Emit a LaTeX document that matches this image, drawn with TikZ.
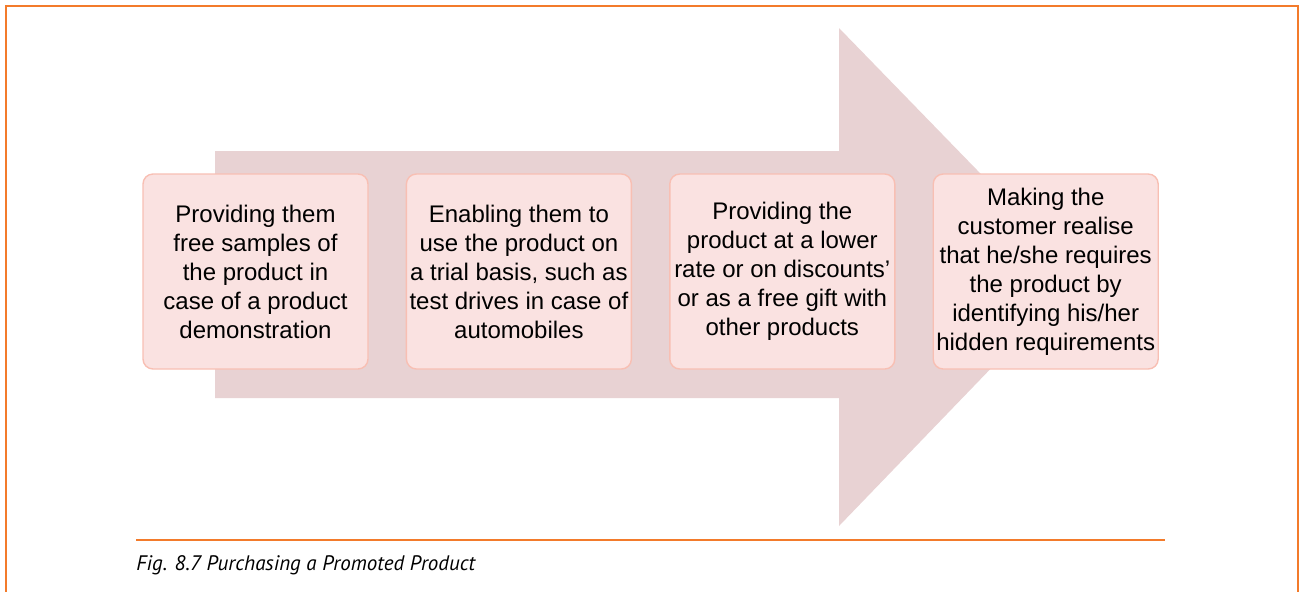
\documentclass[tikz,border=0pt]{standalone}
\usepackage{fontspec}
\setmainfont{Liberation Sans}
\newfontfamily\captionfont{PT Sans}
\usepackage{tikz}
\usetikzlibrary{positioning}

\definecolor{frameorange}{HTML}{F37B2B}
\definecolor{arrowpink}{HTML}{E8D2D3}
\definecolor{boxfill}{HTML}{FAE2E1}
\definecolor{boxline}{HTML}{F8BFB3}

\tikzset{
  stepbox/.style={draw=boxline, fill=boxfill, line width=0.7pt, rounded corners=5pt,
    minimum width=112.5pt, minimum height=97.5pt, align=center, inner sep=0pt,
    font=\fontsize{12}{14.5}\selectfont},
}

\begin{document}
\begin{tikzpicture}[x=0.5pt, y=-0.5pt]
        \useasboundingbox (0,0) rectangle (1301,591);
        \begin{scope}
        \clip (0,0) rectangle (1301,591);

        % frame
        \draw [frameorange, line width=1pt] (6,600) -- (6,6) -- (1298,6) -- (1298,600);

        % big arrow behind the boxes
        \fill [arrowpink] (215,151) -- (839,151) -- (839,28) -- (1080,276)
              -- (839,526) -- (839,398) -- (215,398) -- cycle;

        % steps
        \node [stepbox] (free) at (255.5,271.5) {Providing them\\free samples of\\the product in\\case of a product\\demonstration};
        \node [stepbox, right=18.5pt of free] (trial) {Enabling them to\\use the product on\\a trial basis, such as\\test drives in case of\\automobiles};
        \node [stepbox, right=18.5pt of trial] (rate) {Providing the\\product at a lower\\rate or on discounts'\\or as a free gift with\\other products};
        \node [stepbox, right=18.5pt of rate] (need) {Making the\\customer realise\\that he/she requires\\the product by\\identifying his/her\\hidden requirements};

        % caption
        \coordinate (ruleL) at (136,540);
        \coordinate (ruleR) at (1165,540);
        \draw [frameorange, line width=1pt] (ruleL) -- (ruleR);
        \node [anchor=base west, inner sep=0pt, font=\captionfont\itshape\fontsize{10.5}{13}\selectfont] (cap) at (136,570) {Fig. 8.7 Purchasing a Promoted Product};
        \end{scope}
\end{tikzpicture}
\end{document}
